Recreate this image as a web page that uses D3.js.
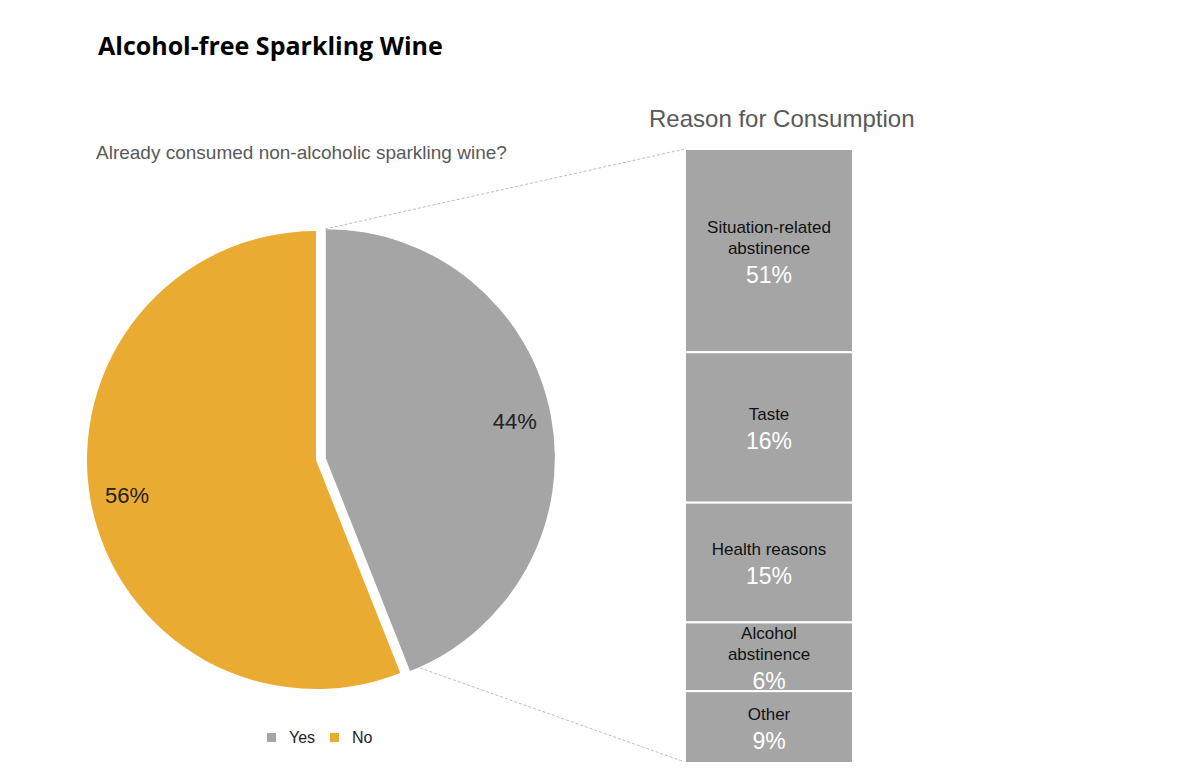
<!DOCTYPE html>
<html><head><meta charset="utf-8">
<script src="https://cdn.jsdelivr.net/npm/d3@7"></script>
<style>body{margin:0;background:#fff;font-family:"Liberation Sans",Arial,sans-serif}</style>
</head><body><svg id="c" width="1200" height="779"></svg>
<script>
const pieLabels = ["Yes","No"];
const pieValues = [44,56];
const reasons = [["Situation-related","abstinence"],["Taste"],["Health reasons"],["Alcohol","abstinence"],["Other"]];
const reasonValues = [51,16,15,6,9];
const reasonBoxShare = [33.1,24.5,19.5,11.2,11.7]; // visual share of column

const svg = d3.select("#c");
const colors = d3.scaleOrdinal().domain(pieLabels).range(["#a5a5a5","#eaab33"]);

svg.append("text").attr("x",98).attr("y",55).attr("font-size",25).attr("font-weight","bold")
  .attr("font-family","Open Sans, sans-serif").attr("fill","#000").text("Alcohol-free Sparkling Wine");
svg.append("text").attr("x",96).attr("y",159).attr("font-size",19).attr("fill","#595959")
  .text("Already consumed non-alcoholic sparkling wine?");
svg.append("text").attr("x",649).attr("y",127).attr("font-size",24).attr("fill","#595959")
  .text("Reason for Consumption");

// connector lines
[[325,229,685,149],[420,668,685,762]].forEach(l=>svg.append("line")
  .attr("x1",l[0]).attr("y1",l[1]).attr("x2",l[2]).attr("y2",l[3])
  .attr("stroke","#aaa").attr("stroke-dasharray","3,2").attr("stroke-width",0.8));

const cx=316, cy=460, r=229;
const pie = d3.pie().sort(null)(pieValues);
const arc = d3.arc().innerRadius(0).outerRadius(r);
const g = svg.append("g").attr("transform",`translate(${cx},${cy})`);
pie.forEach((d,i)=>{
  const mid=(d.startAngle+d.endAngle)/2, off=i===0?10:0;
  const dx=Math.sin(mid)*off, dy=-Math.cos(mid)*off;
  const s=g.append("g").attr("transform",`translate(${dx},${dy})`);
  s.append("path").attr("d",arc(d)).attr("fill",colors(pieLabels[i]));
  const lr=r*0.84;
  s.append("text").attr("x",Math.sin(mid)*lr).attr("y",-Math.cos(mid)*lr+7)
    .attr("text-anchor","middle").attr("font-size",22).attr("fill","#222").text(pieValues[i]+"%");
});

// legend
pieLabels.forEach((l,i)=>{
  const x=267+i*63;
  svg.append("rect").attr("x",x).attr("y",733).attr("width",9).attr("height",9).attr("fill",colors(l));
  svg.append("text").attr("x",x+22).attr("y",743).attr("font-size",16).attr("fill","#222").text(l);
});

// stacked column
const total=d3.sum(reasonBoxShare);
const y=d3.scaleLinear().domain([0,total]).range([149,763]);
let acc=0;
reasonValues.forEach((v,i)=>{
  const y0=y(acc), y1=y(acc+reasonBoxShare[i]); acc+=reasonBoxShare[i];
  svg.append("rect").attr("x",685).attr("y",y0).attr("width",168).attr("height",y1-y0)
    .attr("fill","#a5a5a5").attr("stroke","#fff").attr("stroke-width",2);
  const lines=reasons[i], mid=(y0+y1)/2;
  const n=lines.length, top=mid-(n*21+26)/2+16;
  lines.forEach((t,j)=>svg.append("text").attr("x",769).attr("y",top+j*21)
    .attr("text-anchor","middle").attr("font-size",17).attr("fill","#111").text(t));
  svg.append("text").attr("x",769).attr("y",top+n*21+8).attr("text-anchor","middle")
    .attr("font-size",23).attr("fill","#fff").text(v+"%");
});
</script></body></html>
